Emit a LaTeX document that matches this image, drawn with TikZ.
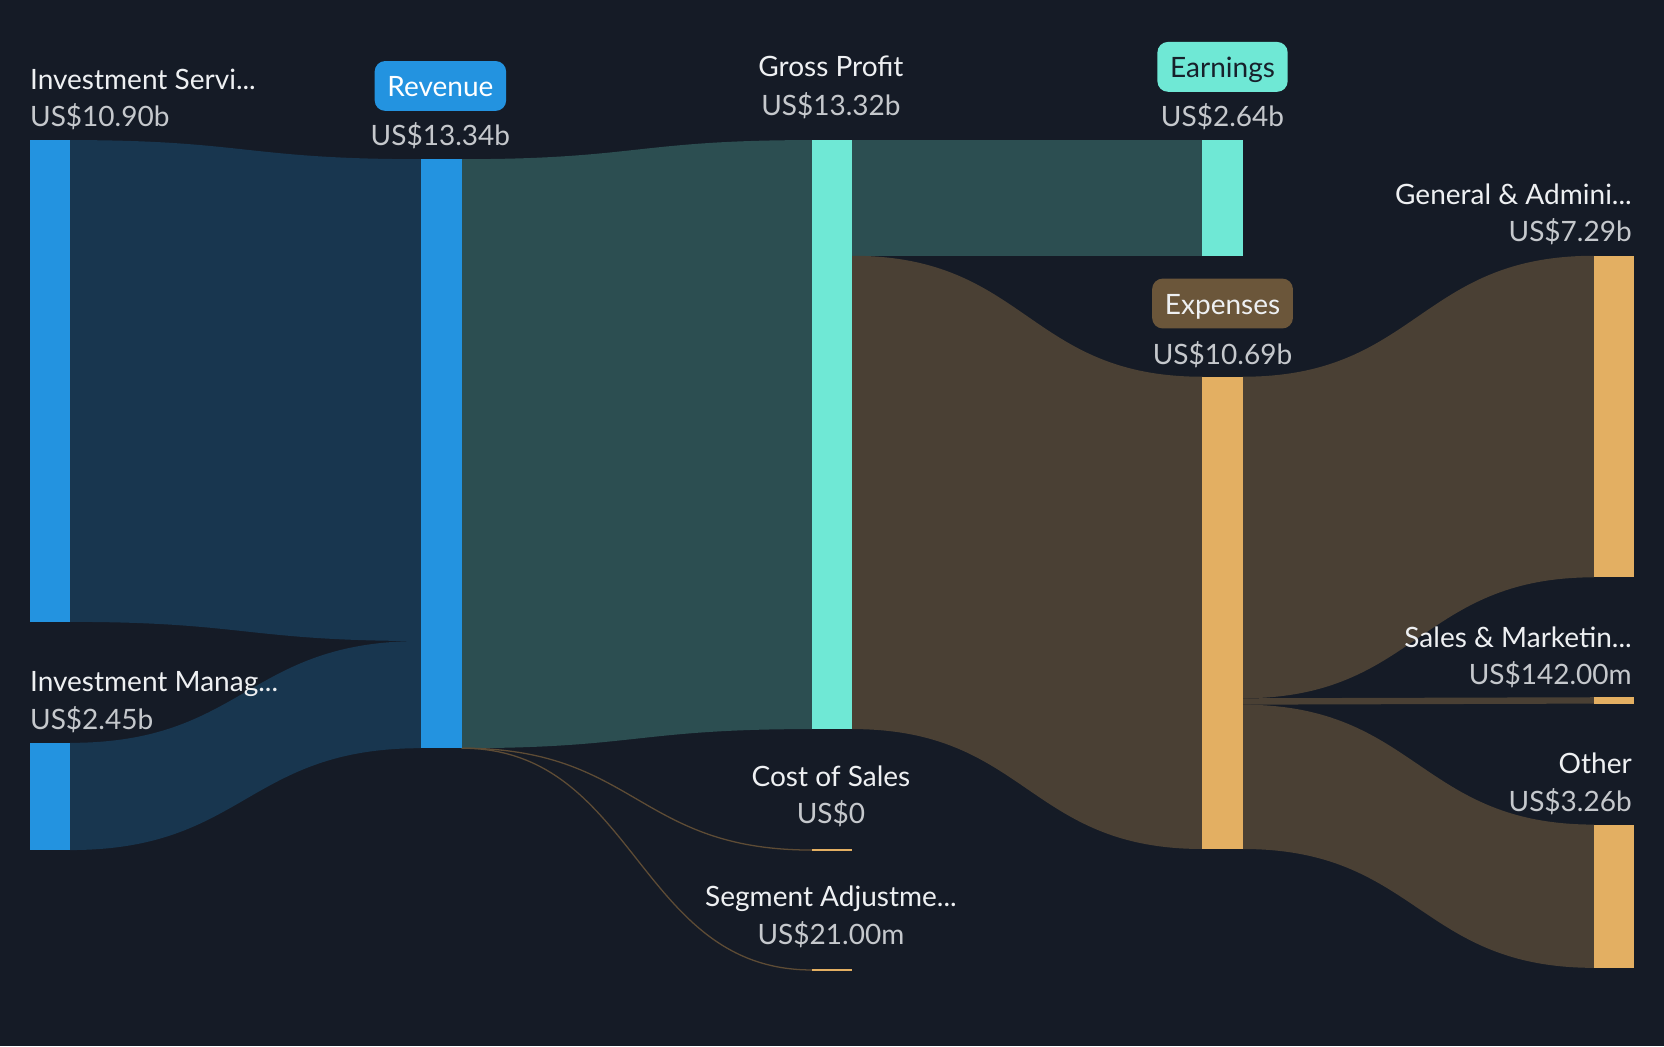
\documentclass[tikz,border=0pt]{standalone}
\usepackage{fontspec}
\setmainfont{Lato}
\usepackage{tikz}

\definecolor{bg}{HTML}{151B26}
\definecolor{barblue}{HTML}{2393E0}
\definecolor{bandblue}{HTML}{18364F}
\definecolor{barteal}{HTML}{6FE8D5}
\definecolor{bandteal}{HTML}{2C4E51}
\definecolor{barorange}{HTML}{E3AF62}
\definecolor{bandbrown}{HTML}{4A4034}
\definecolor{linebrown}{HTML}{5E4C35}
\definecolor{expbox}{HTML}{6B563A}
\definecolor{lbltext}{HTML}{EEF0F2}
\definecolor{valtext}{HTML}{C5C8CC}
\definecolor{tagdark}{HTML}{17202B}

\begin{document}
\begin{tikzpicture}[x=0.5pt,y=-0.5pt,
	bar/.style={anchor=north west,inner sep=0pt,outer sep=0pt,minimum width=19pt},
	lbl/.style={text=lbltext,font=\fontsize{13.2}{15}\selectfont,inner sep=0pt,text height=11.4pt,text depth=1pt},
	val/.style={text=valtext,font=\fontsize{13.2}{15}\selectfont,inner sep=0pt,text height=11.4pt,text depth=1pt},
	tag/.style={rounded corners=5pt,inner xsep=6pt,inner ysep=0pt,minimum height=23.5pt,text height=10.4pt,text depth=0.4pt,font=\fontsize{13.2}{15}\selectfont}]
	\fill[bg] (0,0) rectangle (1568,986);

\node[bar,minimum height=227pt] (isv) at (28,132) {};
\node[bar,minimum height=50.5pt] (ism) at (28,700) {};
\node[bar,minimum height=277.5pt] (rev) at (397,150) {};
\node[bar,minimum height=277.5pt] (gp) at (765,132) {};
\node[bar,minimum height=1pt] (cos) at (765,800) {};
\node[bar,minimum height=1pt] (seg) at (765,913) {};
\node[bar,minimum height=54.5pt] (ern) at (1133,132) {};
\node[bar,minimum height=222.5pt] (exp) at (1133,355) {};
\node[bar,minimum height=151.5pt] (gna) at (1502,241) {};
\node[bar,minimum height=3pt] (snm) at (1502,657) {};
\node[bar,minimum height=67.5pt] (oth) at (1502,777) {};

\fill[bandblue] (isv.north east) .. controls +(165,0) and +(-165,0) .. (rev.north west) -- (rev.west |- 0,604) .. controls +(-165,0) and +(165,0) .. (isv.south east) -- cycle;
\fill[bandblue] (ism.north east) .. controls +(165,0) and +(-165,0) .. (rev.west |- 0,604) -- (rev.south west) .. controls +(-165,0) and +(165,0) .. (ism.south east) -- cycle;
\fill[bandteal] (rev.north east) .. controls +(165,0) and +(-165,0) .. (gp.north west) -- (gp.south west) .. controls +(-165,0) and +(165,0) .. (rev.south east) -- cycle;
\draw[linebrown,line width=0.6pt] (rev.south east) .. controls +(165,0) and +(-165,0) .. (cos.west);
\draw[linebrown,line width=0.6pt] (rev.south east) .. controls +(165,0) and +(-165,0) .. (seg.west);
\fill[bandteal] (gp.north east) -- (ern.north west) -- (ern.south west) -- (gp.east |- 0,241) -- cycle;
\fill[bandbrown] (gp.east |- 0,241) .. controls +(165,0) and +(-165,0) .. (exp.north west) -- (exp.south west) .. controls +(-165,0) and +(165,0) .. (gp.south east) -- cycle;
\fill[bandbrown] (exp.north east) .. controls +(165,0) and +(-165,0) .. (gna.north west) -- (gna.south west) .. controls +(-165,0) and +(165,0) .. (exp.east |- 0,658) -- cycle;
\fill[bandbrown] (exp.east |- 0,658) .. controls +(165,0) and +(-165,0) .. (snm.north west) -- (snm.south west) .. controls +(-165,0) and +(165,0) .. (exp.east |- 0,664) -- cycle;
\fill[bandbrown] (exp.east |- 0,664) .. controls +(165,0) and +(-165,0) .. (oth.north west) -- (oth.south west) .. controls +(-165,0) and +(165,0) .. (exp.south east) -- cycle;

\foreach \b/\c in {isv/barblue,ism/barblue,rev/barblue,gp/barteal,ern/barteal,cos/barorange,seg/barorange,exp/barorange,gna/barorange,snm/barorange,oth/barorange}
	\fill[\c] (\b.north west) rectangle (\b.south east);

\node[lbl,anchor=west] (isvname) at (28,74) {Investment Servi...};
\node[val,anchor=west] (isvval) at (28,109) {US\$10.90b};
\node[lbl,anchor=west] (ismname) at (28,641) {Investment Manag...};
\node[val,anchor=west] (ismval) at (28,677) {US\$2.45b};
\node[tag,fill=barblue,text=white] (revtag) at (415,81) {Revenue};
\node[val] (revval) at (415,127) {US\$13.34b};
\node[lbl] (gpname) at (783,62) {Gross Profit};
\node[val] (gpval) at (783,98) {US\$13.32b};
\node[lbl] (cosname) at (783,731) {Cost of Sales};
\node[val] (cosval) at (783,766) {US\$0};
\node[lbl] (segname) at (783,844) {Segment Adjustme...};
\node[val] (segval) at (783,880) {US\$21.00m};
\node[tag,fill=barteal,text=tagdark] (erntag) at (1152,63) {Earnings};
\node[val] (ernval) at (1152,109) {US\$2.64b};
\node[tag,fill=expbox,text=lbltext] (exptag) at (1152,286) {Expenses};
\node[val] (expval) at (1152,333) {US\$10.69b};
\node[lbl,anchor=east] (gnaname) at (1538,182) {General \& Admini...};
\node[val,anchor=east] (gnaval) at (1538,217) {US\$7.29b};
\node[lbl,anchor=east] (snmname) at (1538,600) {Sales \& Marketin...};
\node[val,anchor=east] (snmval) at (1538,635) {US\$142.00m};
\node[lbl,anchor=east] (othname) at (1538,718) {Other};
\node[val,anchor=east] (othval) at (1538,754) {US\$3.26b};

\end{tikzpicture}
\end{document}
